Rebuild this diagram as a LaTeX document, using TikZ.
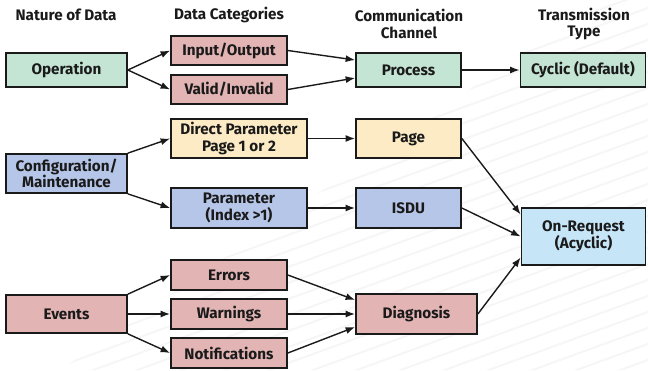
\documentclass[tikz,border=0pt]{standalone}
\usepackage{fontspec}
\setmainfont{Fira Sans}
\usetikzlibrary{arrows.meta}
\definecolor{cgreen}{HTML}{C4E4D4}
\definecolor{cpink}{HTML}{E2B4B4}
\definecolor{cyellow}{HTML}{FDEBC6}
\definecolor{cblue}{HTML}{B6C6E8}
\definecolor{clight}{HTML}{C6E6F8}
\definecolor{cline}{HTML}{1A1A1A}
\definecolor{cstripe}{HTML}{F6F6F6}
\tikzset{
  box/.style={draw=cline, line width=1.7bp, inner sep=0pt, align=center,
    font=\fontsize{15.3}{16.5}\selectfont\bfseries, text=cline},
  hdr/.style={align=center, font=\fontsize{15.3}{17}\selectfont\bfseries, text=cline},
  conn/.style={draw=cline, line width=1.4bp, -{Latex[length=9.5bp,width=7bp]}},
}
\begin{document}
\begin{tikzpicture}[x=1bp,y=-1bp]
\useasboundingbox (0,0) rectangle (648,370);
% faint background stripes
\begin{scope}
  \clip (60,370) -- (648,370) -- (648,0) -- (600,0) -- cycle;
  \foreach \i in {0,...,50} {
    \draw[cstripe, line width=2bp] (0,{100+16*\i}) -- ++(700,-255);
  }
\end{scope}
% headers
\node[hdr] (h1) at (66,15) {Nature of Data};
\node[hdr] (h2) at (229,15) {Data Categories};
\node[hdr] (h3) at (409,24) {Communication\\Channel};
\node[hdr] (h4) at (584,24) {Transmission\\Type};
% column 1
\node[box, fill=cgreen, minimum width=121bp, minimum height=34bp] (op) at (66.5,70) {Operation};
\node[box, fill=cblue, minimum width=121bp, minimum height=39bp] (cfg) at (66.5,173.5) {Configuration/\\Maintenance};
\node[box, fill=cpink, minimum width=121bp, minimum height=38bp] (ev) at (66.5,314) {Events};
% column 2
\node[box, fill=cpink, minimum width=116bp, minimum height=29bp] (io) at (229,50.5) {Input/Output};
\node[box, fill=cpink, minimum width=116bp, minimum height=29bp] (vi) at (229,89.5) {Valid/Invalid};
\node[box, fill=cyellow, minimum width=136bp, minimum height=39bp] (dp) at (239,138.5) {Direct Parameter\\Page 1 or 2};
\node[box, fill=cblue, minimum width=136bp, minimum height=40bp] (par) at (239,208) {Parameter\\(Index >1)};
\node[box, fill=cpink, minimum width=116bp, minimum height=30bp] (err) at (229,275) {Errors};
\node[box, fill=cpink, minimum width=116bp, minimum height=30bp] (warn) at (229,314) {Warnings};
\node[box, fill=cpink, minimum width=116bp, minimum height=30bp] (notif) at (229,353) {Notifications};
% column 3
\node[box, fill=cgreen, minimum width=105bp, minimum height=34bp] (proc) at (408.5,70) {Process};
\node[box, fill=cyellow, minimum width=105bp, minimum height=39bp] (page) at (408.5,138.5) {Page};
\node[box, fill=cblue, minimum width=105bp, minimum height=40bp] (isdu) at (408.5,208) {ISDU};
\node[box, fill=cpink, minimum width=121bp, minimum height=40bp] (diag) at (416.5,314) {Diagnosis};
% column 4
\node[box, fill=cgreen, minimum width=125bp, minimum height=34bp] (cyc) at (583,70) {Cyclic (Default)};
\node[box, fill=clight, minimum width=124bp, minimum height=57bp] (onr) at (583.5,236.5) {On-Request\\(Acyclic)};
% connectors
\draw[conn] (op.east) -- (io.west);
\draw[conn] (op.east) -- (vi.west);
\draw[conn] (io.east) -- ([yshift=10bp]proc.west);
\draw[conn] (vi.east) -- ([yshift=-8bp]proc.west);
\draw[conn] (proc.east) -- (cyc.west);
\draw[conn] (cfg.north east) -- (dp.west);
\draw[conn] (cfg.south east) -- (par.west);
\draw[conn] (dp.east) -- (page.west);
\draw[conn] (par.east) -- (isdu.west);
\draw[conn] (page.east) -- ([yshift=22bp]onr.west);
\draw[conn] (isdu.east) -- (onr.west);
\draw[conn] (diag.east) -- ([yshift=-21bp]onr.west);
\draw[conn] (ev.north east) -- (err.west);
\draw[conn] (ev.east) -- (warn.west);
\draw[conn] (ev.south east) -- (notif.west);
\draw[conn] (err.east) -- ([yshift=14bp]diag.west);
\draw[conn] (warn.east) -- (diag.west);
\draw[conn] (notif.east) -- ([yshift=-13bp]diag.west);
\end{tikzpicture}
\end{document}
